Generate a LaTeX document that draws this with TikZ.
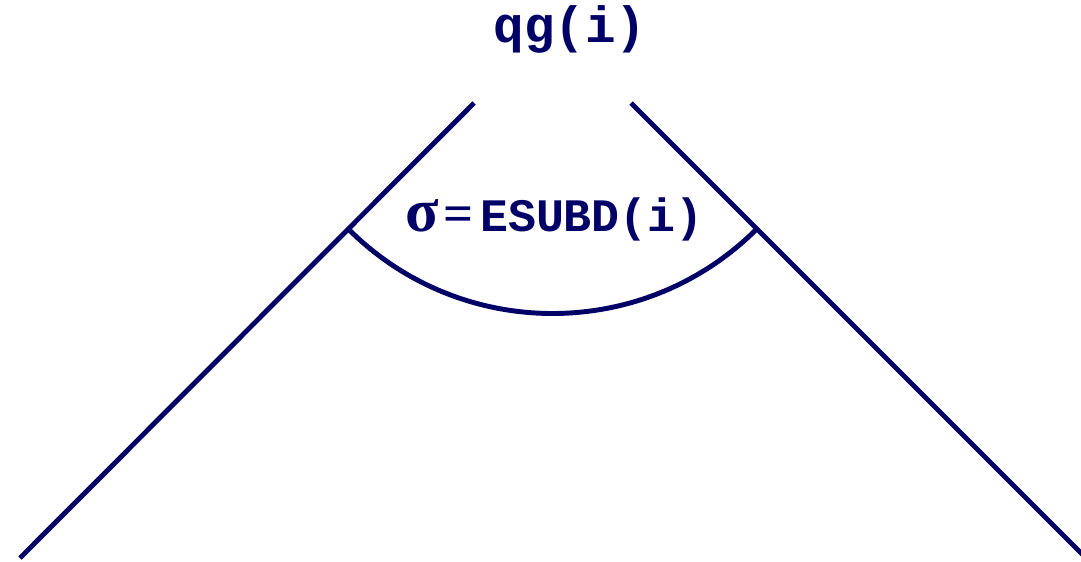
\documentclass[tikz,border=0pt]{standalone}
\usepackage{fontspec}
\setmonofont{Liberation Mono}
\newfontfamily\symfont{Liberation Serif}
\definecolor{Navy}{HTML}{000066}
\tikzset{ray/.style={Navy,line width=2.8pt}, lbl/.style={text=Navy,font=\ttfamily\bfseries,inner sep=0pt,anchor=base}}
\begin{document}
\begin{tikzpicture}[x=0.02cm,y=-0.02cm]
\useasboundingbox (0,0) rectangle (1081,561);
\coordinate (apex) at (552.5,24.5); \coordinate (ltop) at (474,103); \coordinate (lbot) at (20,558); \coordinate (rtop) at (631,103); \coordinate (rbot) at (1083,555);
\node[lbl,font=\fontsize{29}{32}\ttfamily\bfseries] (qg) at (570,42){qg(i)};
\draw[ray] (ltop)--(lbot); \draw[ray] (rtop)--(rbot);
\draw[ray] (apex) ++(135:289) arc[start angle=135,end angle=45,radius=289];
\node[lbl,anchor=base east,font=\fontsize{26.5}{30}\ttfamily\bfseries] (sig) at (704,231){{\symfont{\fontsize{35}{38}\selectfont σ}\kern3pt{\fontsize{30}{33}\selectfont=}\kern3.5pt}ESUBD(i)};
\end{tikzpicture}
\end{document}
